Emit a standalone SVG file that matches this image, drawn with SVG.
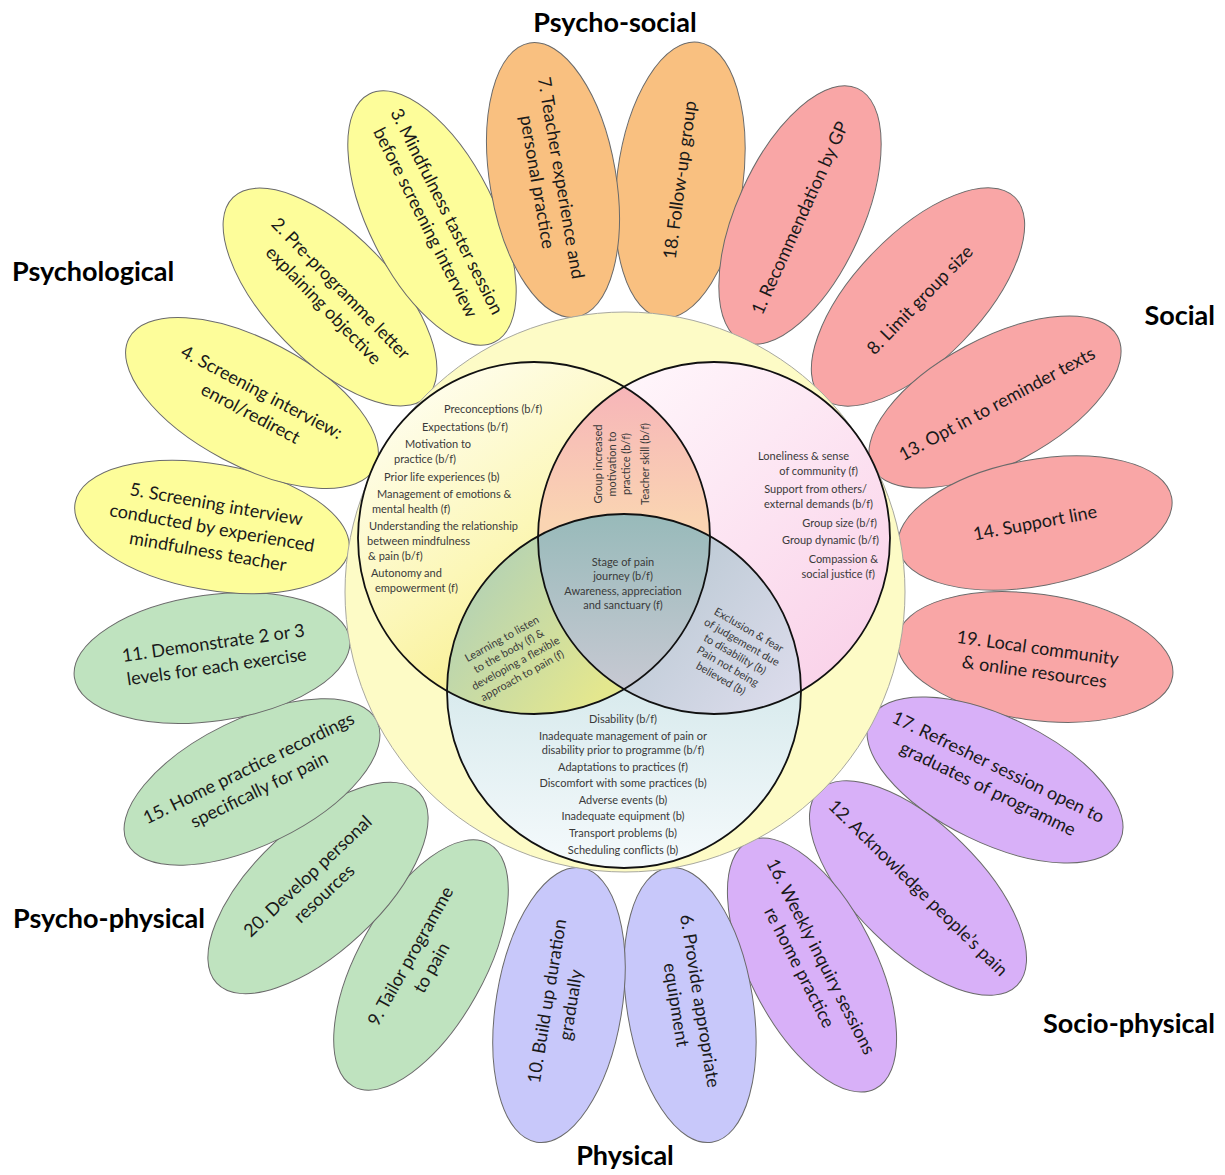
<svg xmlns="http://www.w3.org/2000/svg" width="1225" height="1175" viewBox="0 0 1225 1175">
<style>
.petal ellipse{stroke:#6a6a6a;stroke-width:1}
.yel{fill:#fdfd9a}.ora{fill:#f9c080}.pnk{fill:#f9a6a6}.pur{fill:#d8b0f8}.blu{fill:#c8c8fa}.grn{fill:#bfe3bf}
.pt{font-family:Lato,"Open Sans",sans-serif;font-size:18px;fill:#1a1a1a;text-anchor:middle}
.vt{font-family:Lato,"Open Sans",sans-serif;font-size:11px;fill:#3a3a3a}
.vm{text-anchor:middle}.ve{text-anchor:end}
.lab{font-family:Lato,"Open Sans",sans-serif;font-weight:700;font-size:27px;fill:#000}
.vs{fill:none;stroke:#111;stroke-width:1.8}
</style>
<defs>
<clipPath id="clipL"><circle cx="534" cy="538" r="176"/></clipPath>
<clipPath id="clipR"><circle cx="714" cy="538" r="176"/></clipPath>
<linearGradient id="gL" gradientUnits="userSpaceOnUse" x1="400" y1="380" x2="620" y2="690"><stop offset="0" stop-color="#fffef2"/><stop offset="0.5" stop-color="#fcf7b8"/><stop offset="1" stop-color="#f6eb7a"/></linearGradient>
<linearGradient id="gR" gradientUnits="userSpaceOnUse" x1="620" y1="380" x2="860" y2="640"><stop offset="0" stop-color="#fff6fb"/><stop offset="1" stop-color="#fad4ea"/></linearGradient>
<linearGradient id="gLR" gradientUnits="userSpaceOnUse" x1="0" y1="365" x2="0" y2="520"><stop offset="0" stop-color="#f6b0ba"/><stop offset="1" stop-color="#fad4b2"/></linearGradient>
<linearGradient id="gB" gradientUnits="userSpaceOnUse" x1="0" y1="514" x2="0" y2="868"><stop offset="0" stop-color="#98baba"/><stop offset="0.45" stop-color="#d6e9ec"/><stop offset="1" stop-color="#f5fafc"/></linearGradient>
<linearGradient id="gLB" gradientUnits="userSpaceOnUse" x1="460" y1="590" x2="600" y2="695"><stop offset="0" stop-color="#b4d2b4"/><stop offset="1" stop-color="#e4e78e"/></linearGradient>
<linearGradient id="gRB" gradientUnits="userSpaceOnUse" x1="640" y1="560" x2="800" y2="695"><stop offset="0" stop-color="#b9c8d2"/><stop offset="1" stop-color="#dcdcec"/></linearGradient>
<linearGradient id="gC" gradientUnits="userSpaceOnUse" x1="0" y1="515" x2="0" y2="692"><stop offset="0" stop-color="#98baba"/><stop offset="1" stop-color="#c8c9d3"/></linearGradient>
</defs>
<rect width="1225" height="1175" fill="#fff"/>

<g id="petals">
<g id="petal-18" class="petal"><ellipse class="ora" rx="63" ry="139" transform="translate(680,180) rotate(7.5)"/><text class="pt" transform="translate(680,180) rotate(-82.5)"><tspan x="0" y="6">18. Follow-up group</tspan></text></g>
<g id="petal-1" class="petal"><ellipse class="pnk" rx="63" ry="139" transform="translate(800,215) rotate(24.4)"/><text class="pt" transform="translate(800,218) rotate(-65.6)"><tspan x="0" y="6">1. Recommendation by GP</tspan></text></g>
<g id="petal-8" class="petal"><ellipse class="pnk" rx="63" ry="139" transform="translate(918,297) rotate(44)"/><text class="pt" transform="translate(920,300) rotate(-46)"><tspan x="0" y="6">8. Limit group size</tspan></text></g>
<g id="petal-13" class="petal"><ellipse class="pnk" rx="63" ry="139" transform="translate(995,402) rotate(61.8)"/><text class="pt" transform="translate(997,404) rotate(-28.2)"><tspan x="0" y="6">13. Opt in to reminder texts</tspan></text></g>
<g id="petal-14" class="petal"><ellipse class="pnk" rx="63" ry="139" transform="translate(1035,523) rotate(79.4)"/><text class="pt" transform="translate(1035,523) rotate(-10.6)"><tspan x="0" y="6">14. Support line</tspan></text></g>
<g id="petal-19" class="petal"><ellipse class="pnk" rx="63" ry="139" transform="translate(1035,657) rotate(97.9)"/><text class="pt" transform="translate(1036,660) rotate(7.9)"><tspan x="0" y="-6">19. Local community</tspan><tspan x="0" y="18">&amp; online resources</tspan></text></g>
<g id="petal-17" class="petal"><ellipse class="pur" rx="63" ry="139" transform="translate(995,780) rotate(115.9)"/><text class="pt" transform="translate(993,778) rotate(25.9)"><tspan x="0" y="-6">17. Refresher session open to</tspan><tspan x="0" y="18">graduates of programme</tspan></text></g>
<g id="petal-12" class="petal"><ellipse class="pur" rx="63" ry="139" transform="translate(918,888) rotate(134.5)"/><text class="pt" transform="translate(918,888) rotate(44.5)"><tspan x="0" y="6">12. Acknowledge people’s pain</tspan></text></g>
<g id="petal-16" class="petal"><ellipse class="pur" rx="63" ry="139" transform="translate(812,965) rotate(152.9)"/><text class="pt" transform="translate(810,962) rotate(62.9)"><tspan x="0" y="-6">16. Weekly inquiry sessions</tspan><tspan x="0" y="18">re home practice</tspan></text></g>
<g id="petal-6" class="petal"><ellipse class="blu" rx="63" ry="139" transform="translate(690,1005) rotate(170.9)"/><text class="pt" transform="translate(688,1003) rotate(80.9)"><tspan x="0" y="-6">6. Provide appropriate</tspan><tspan x="0" y="18">equipment</tspan></text></g>
<g id="petal-10" class="petal"><ellipse class="blu" rx="63" ry="139" transform="translate(559,1005) rotate(-170.7)"/><text class="pt" transform="translate(559,1003) rotate(-80.7)"><tspan x="0" y="-6">10. Build up duration</tspan><tspan x="0" y="18">gradually</tspan></text></g>
<g id="petal-9" class="petal"><ellipse class="grn" rx="63" ry="139" transform="translate(421,965) rotate(-150.8)"/><text class="pt" transform="translate(421,962) rotate(-60.8)"><tspan x="0" y="-6">9. Tailor programme</tspan><tspan x="0" y="18">to pain</tspan></text></g>
<g id="petal-20" class="petal"><ellipse class="grn" rx="63" ry="139" transform="translate(318,888) rotate(-133.2)"/><text class="pt" transform="translate(316,885) rotate(-43.2)"><tspan x="0" y="-6">20. Develop personal</tspan><tspan x="0" y="18">resources</tspan></text></g>
<g id="petal-15" class="petal"><ellipse class="grn" rx="63" ry="139" transform="translate(252,782) rotate(-116)"/><text class="pt" transform="translate(254,779) rotate(-26)"><tspan x="0" y="-6">15. Home practice recordings</tspan><tspan x="0" y="18">specifically for pain</tspan></text></g>
<g id="petal-11" class="petal"><ellipse class="grn" rx="63" ry="139" transform="translate(212,658) rotate(-98)"/><text class="pt" transform="translate(215,655) rotate(-8)"><tspan x="0" y="-6">11. Demonstrate 2 or 3</tspan><tspan x="0" y="18">levels for each exercise</tspan></text></g>
<g id="petal-5" class="petal"><ellipse class="yel" rx="63" ry="139" transform="translate(212,527) rotate(-80)"/><text class="pt" transform="translate(212,528) rotate(10)"><tspan x="0" y="-18">5. Screening interview</tspan><tspan x="0" y="6">conducted by experienced</tspan><tspan x="0" y="30">mindfulness teacher</tspan></text></g>
<g id="petal-4" class="petal"><ellipse class="yel" rx="63" ry="139" transform="translate(252,403) rotate(-62.2)"/><text class="pt" transform="translate(256,403) rotate(27.8)"><tspan x="0" y="-6">4. Screening interview:</tspan><tspan x="0" y="18">enrol/redirect</tspan></text></g>
<g id="petal-2" class="petal"><ellipse class="yel" rx="63" ry="139" transform="translate(330,297) rotate(-44.2)"/><text class="pt" transform="translate(332,297) rotate(45.8)"><tspan x="0" y="-6">2. Pre-programme letter</tspan><tspan x="0" y="18">explaining objective</tspan></text></g>
<g id="petal-3" class="petal"><ellipse class="yel" rx="63" ry="139" transform="translate(432,218) rotate(-26.8)"/><text class="pt" transform="translate(436,217) rotate(63.2)"><tspan x="0" y="-6">3. Mindfulness taster session</tspan><tspan x="0" y="18">before screening interview</tspan></text></g>
<g id="petal-7" class="petal"><ellipse class="ora" rx="63" ry="139" transform="translate(553,180) rotate(-9.7)"/><text class="pt" transform="translate(549,180) rotate(80.3)"><tspan x="0" y="-6">7. Teacher experience and</tspan><tspan x="0" y="18">personal practice</tspan></text></g>
</g>

<g id="centre">
<circle id="disc" cx="625" cy="592" r="280" fill="#fdfbc6" stroke="#a8a8a0" stroke-width="1"/>
<g id="venn">
<circle cx="534" cy="538" r="176" fill="url(#gL)"/>
<circle cx="714" cy="538" r="176" fill="url(#gR)"/>
<circle cx="624" cy="691" r="177" fill="url(#gB)"/>
<g clip-path="url(#clipL)"><circle cx="714" cy="538" r="176" fill="url(#gLR)"/></g>
<g clip-path="url(#clipL)"><circle cx="624" cy="691" r="177" fill="url(#gLB)"/></g>
<g clip-path="url(#clipR)"><circle cx="624" cy="691" r="177" fill="url(#gRB)"/></g>
<g clip-path="url(#clipL)"><g clip-path="url(#clipR)"><circle cx="624" cy="691" r="177" fill="url(#gC)"/></g></g>
<circle class="vs" cx="534" cy="538" r="176"/>
<circle class="vs" cx="714" cy="538" r="176"/>
<circle class="vs" cx="624" cy="691" r="177"/>
</g>
<g id="psychological-set">
<text class="vt" x="444" y="413">Preconceptions (b/f)</text>
<text class="vt" x="422" y="431">Expectations (b/f)</text>
<text class="vt" x="405" y="448">Motivation to</text>
<text class="vt" x="394" y="463">practice (b/f)</text>
<text class="vt" x="384" y="481">Prior life experiences (b)</text>
<text class="vt" x="377" y="498">Management of emotions &amp;</text>
<text class="vt" x="372" y="513">mental health (f)</text>
<text class="vt" x="369" y="530">Understanding the relationship</text>
<text class="vt" x="367" y="545">between mindfulness</text>
<text class="vt" x="368" y="560">&amp; pain (b/f)</text>
<text class="vt" x="371" y="577">Autonomy and</text>
<text class="vt" x="375" y="592">empowerment (f)</text>
</g>
<g id="psychosocial-set">
<text class="vt vm" transform="translate(598,464) rotate(-90)"><tspan x="0" y="4">Group increased</tspan><tspan x="0" y="18">motivation to</tspan><tspan x="0" y="32">practice (b/f)</tspan><tspan x="0" y="51">Teacher skill (b/f)</tspan></text>
</g>
<g id="social-set">
<text class="vt ve" x="849" y="460">Loneliness &amp; sense</text>
<text class="vt ve" x="858" y="475">of community (f)</text>
<text class="vt ve" x="867" y="493">Support from others/</text>
<text class="vt ve" x="873" y="508">external demands (b/f)</text>
<text class="vt ve" x="877" y="527">Group size (b/f)</text>
<text class="vt ve" x="879" y="544">Group dynamic (b/f)</text>
<text class="vt ve" x="878" y="563">Compassion &amp;</text>
<text class="vt ve" x="875" y="578">social justice (f)</text>
</g>
<g id="core-set">
<text class="vt vm" x="623" y="566">Stage of pain</text>
<text class="vt vm" x="623" y="580">journey (b/f)</text>
<text class="vt vm" x="623" y="595">Awareness, appreciation</text>
<text class="vt vm" x="623" y="609">and sanctuary (f)</text>
</g>
<g id="psychophysical-set">
<text class="vt vm" transform="translate(512,657) rotate(-29)"><tspan x="0" y="-17">Learning to listen</tspan><tspan x="0" y="-3">to the body (f) &amp;</tspan><tspan x="0" y="11">developing a flexible</tspan><tspan x="0" y="25">approach to pain (f)</tspan></text>
</g>
<g id="sociophysical-set">
<text class="vt vm" transform="translate(735,654) rotate(30)"><tspan x="0" y="-24">Exclusion &amp; fear</tspan><tspan x="0" y="-10">of judgement due</tspan><tspan x="0" y="4">to disability (b)</tspan><tspan x="0" y="18">Pain not being</tspan><tspan x="0" y="32">believed (b)</tspan></text>
</g>
<g id="physical-set">
<text class="vt vm" x="623" y="723">Disability (b/f)</text>
<text class="vt vm" x="623" y="740">Inadequate management of pain or</text>
<text class="vt vm" x="623" y="754">disability prior to programme (b/f)</text>
<text class="vt vm" x="623" y="771">Adaptations to practices (f)</text>
<text class="vt vm" x="623" y="787">Discomfort with some practices (b)</text>
<text class="vt vm" x="623" y="804">Adverse events (b)</text>
<text class="vt vm" x="623" y="820">Inadequate equipment (b)</text>
<text class="vt vm" x="623" y="837">Transport problems (b)</text>
<text class="vt vm" x="623" y="854">Scheduling conflicts (b)</text>
</g>
</g>

<g id="connectors"/>

<g id="labels">
<text class="lab" x="615" y="32" text-anchor="middle">Psycho-social</text>
<text class="lab" x="12" y="281">Psychological</text>
<text class="lab" x="1215" y="325" text-anchor="end">Social</text>
<text class="lab" x="13" y="928">Psycho-physical</text>
<text class="lab" x="625" y="1165" text-anchor="middle">Physical</text>
<text class="lab" x="1215" y="1033" text-anchor="end">Socio-physical</text>
</g>
</svg>
